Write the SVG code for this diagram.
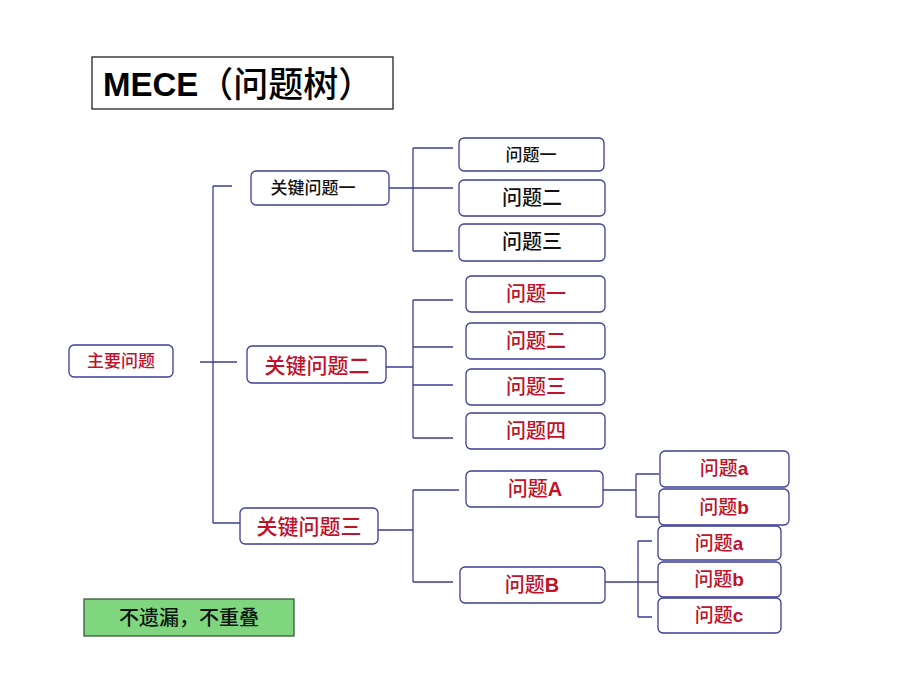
<svg xmlns="http://www.w3.org/2000/svg" width="920" height="690" viewBox="0 0 920 690">
<style>
.box{fill:#fff;stroke:#3c3c96;stroke-width:1.3}
.ln{stroke:#3c3c96;stroke-width:1.3;fill:none}
.t{font-family:"Liberation Sans","Noto Sans CJK SC",sans-serif;text-anchor:middle;dominant-baseline:central;font-weight:500}
.k{fill:#111}
.r{fill:#c0122a}
.b{font-weight:bold}
</style>
<rect width="920" height="690" fill="#fff"/>
<g id="title">
<rect x="92" y="57" width="301" height="52" fill="#fff" stroke="#222" stroke-width="1.3"/>
<text x="103" y="84" font-family="'Liberation Sans','Noto Sans CJK SC',sans-serif" font-size="33" dominant-baseline="central" fill="#000"><tspan font-weight="bold">MECE</tspan><tspan font-size="35" font-weight="500">（问题树）</tspan></text>
</g>
<g id="connectors">
<path class="ln" d="M200 362H237M213 186V523M213 186H232M213 523H240"/>
<path class="ln" d="M389 188H453M413 148V251M413 148H453M413 251H453"/>
<path class="ln" d="M386 367H413M413 300V438M413 300H453M413 347H453M413 385H453M413 438H453"/>
<path class="ln" d="M378 530H413M413 490V582M413 490H459M413 582H453"/>
<path class="ln" d="M598 490H636M636 474V517M636 474H659M636 517H659"/>
<path class="ln" d="M605 582H658M638 541V617M638 541H652M638 617H652"/>
</g>
<g id="main"><rect class="box" x="69" y="345" width="104" height="32" rx="5"/><text class="t r" x="121" y="361" font-size="17">主要问题</text></g>
<g id="k1"><rect class="box" x="251" y="171" width="138" height="34" rx="5"/><text class="t k" x="313" y="188" font-size="17">关键问题一</text></g>
<g id="k2"><rect class="box" x="247" y="346" width="139" height="37" rx="5"/><text class="t r" x="317" y="365" font-size="21">关键问题二</text></g>
<g id="k3"><rect class="box" x="240" y="508" width="138" height="36" rx="5"/><text class="t r" x="309" y="526" font-size="21">关键问题三</text></g>
<g id="k1q1"><rect class="box" x="459" y="138" width="145" height="33" rx="5"/><text class="t k" x="531" y="155" font-size="17">问题一</text></g>
<g id="k1q2"><rect class="box" x="459" y="180" width="146" height="36" rx="5"/><text class="t k" x="532" y="198" font-size="20">问题二</text></g>
<g id="k1q3"><rect class="box" x="459" y="224" width="146" height="37" rx="5"/><text class="t k" x="532" y="242" font-size="20">问题三</text></g>
<g id="k2q1"><rect class="box" x="466" y="276" width="139" height="36" rx="5"/><text class="t r" x="536" y="294" font-size="20">问题一</text></g>
<g id="k2q2"><rect class="box" x="466" y="323" width="139" height="36" rx="5"/><text class="t r" x="536" y="341" font-size="20">问题二</text></g>
<g id="k2q3"><rect class="box" x="466" y="369" width="139" height="36" rx="5"/><text class="t r" x="536" y="387" font-size="20">问题三</text></g>
<g id="k2q4"><rect class="box" x="466" y="413" width="139" height="36" rx="5"/><text class="t r" x="536" y="431" font-size="20">问题四</text></g>
<g id="qA"><rect class="box" x="466" y="471" width="137" height="36" rx="5"/><text class="t r" x="535" y="489" font-size="20">问题<tspan class="b">A</tspan></text></g>
<g id="qB"><rect class="box" x="460" y="567" width="145" height="36" rx="5"/><text class="t r" x="532" y="585" font-size="20">问题<tspan class="b">B</tspan></text></g>
<g id="qAa"><rect class="box" x="660" y="451" width="129" height="36" rx="5"/><text class="t r" x="724" y="468" font-size="19">问题<tspan class="b">a</tspan></text></g>
<g id="qAb"><rect class="box" x="659" y="489" width="130" height="36" rx="5"/><text class="t r" x="724" y="507" font-size="19">问题<tspan class="b">b</tspan></text></g>
<g id="qBa"><rect class="box" x="658" y="526" width="123" height="34" rx="5"/><text class="t r" x="719" y="543" font-size="19">问题<tspan class="b">a</tspan></text></g>
<g id="qBb"><rect class="box" x="658" y="562" width="123" height="35" rx="5"/><text class="t r" x="719" y="579" font-size="19">问题<tspan class="b">b</tspan></text></g>
<g id="qBc"><rect class="box" x="658" y="598" width="123" height="35" rx="5"/><text class="t r" x="719" y="615" font-size="19">问题<tspan class="b">c</tspan></text></g>
<g id="note"><rect x="84" y="599" width="210" height="37" fill="#7fd67f" stroke="#3a5a3a" stroke-width="1.3"/><text class="t" x="189" y="618" font-size="20" fill="#0a140a">不遗漏，不重叠</text></g>
</svg>
